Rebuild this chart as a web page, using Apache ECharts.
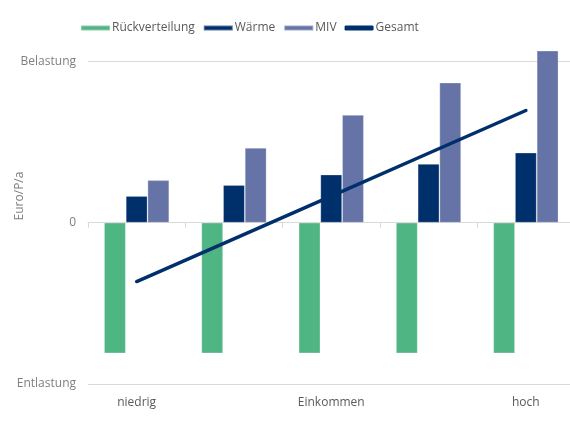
<!DOCTYPE html>
<html><head><meta charset="utf-8">
<script src="https://cdn.jsdelivr.net/npm/echarts@6/dist/echarts.min.js"></script>
<style>html,body{margin:0;padding:0;background:#fff;overflow:hidden}#c{width:576px;height:441px}</style>
</head><body><div id="c"></div>
<script>
const categories = ['niedrig', '', 'Einkommen', '', 'hoch'];
const rueckverteilung = [-81, -81, -81, -81, -81];
const waerme = [16.5, 23.3, 29.8, 36.4, 43.4];
const miv = [26.3, 46.4, 66.8, 86.8, 106.6];
const gesamt = [-36.5, -10, 16.5, 43, 69.5];
const yTickLabels = {'100': 'Belastung', '0': '0', '-100': 'Entlastung'};

const font = '"Open Sans", Lato, sans-serif';
const chart = echarts.init(document.getElementById('c'));
const barBorder = {borderColor: 'rgba(255,255,255,0.35)', borderWidth: 0.8};
chart.setOption({
  animation: false,
  textStyle: {fontFamily: font},
  legend: {
    top: 17, left: 75, itemWidth: 29, itemHeight: 5, itemGap: 8,
    textStyle: {color: '#595959', fontSize: 12, fontFamily: font, padding: [0,0,0,-3]},
    data: [
      {name: 'Rückverteilung', icon: 'rect'},
      {name: 'Wärme', icon: 'rect'},
      {name: 'MIV', icon: 'rect'},
      {name: 'Gesamt', icon: 'roundRect', itemStyle: {color: '#00306b'}}
    ]
  },
  graphic: [{
    type: 'text', x: 20, y: 196, rotation: Math.PI / 2,
    style: {text: 'Euro/P/a', fill: '#7f7f7f', font: '12px ' + font, textAlign: 'center', textVerticalAlign: 'middle'}
  }],
  grid: {left: 88, width: 486.5, top: 61.3, bottom: 57, containLabel: false},
  xAxis: [{
    type: 'category', data: categories,
    axisLine: {onZero: true, lineStyle: {color: '#d9d9d9'}},
    axisTick: {show: true, length: 5, lineStyle: {color: '#d9d9d9'}},
    axisLabel: {show: false}
  }, {
    type: 'category', data: categories, position: 'bottom',
    axisLine: {show: false}, axisTick: {show: false},
    axisLabel: {show: true, interval: 0, color: '#595959', fontSize: 12, margin: 13, fontFamily: font}
  }],
  yAxis: {
    type: 'value', min: -100, max: 100, interval: 100,
    axisLine: {show: false}, axisTick: {show: false},
    splitLine: {lineStyle: {color: '#d9d9d9'}},
    axisLabel: {color: '#7f7f7f', fontSize: 12, margin: 12, fontFamily: font,
      formatter: v => yTickLabels[String(v)] !== undefined ? yTickLabels[String(v)] : ''}
  },
  series: [
    {name: 'Rückverteilung', type: 'bar', data: rueckverteilung, barGap: '0%', barCategoryGap: '33%',
      clip: false, itemStyle: Object.assign({color: '#4fb583'}, barBorder)},
    {name: 'Wärme', type: 'bar', data: waerme, barGap: '0%', barCategoryGap: '33%',
      clip: false, itemStyle: Object.assign({color: '#00306b'}, barBorder)},
    {name: 'MIV', type: 'bar', data: miv, barGap: '0%', barCategoryGap: '33%',
      clip: false, itemStyle: Object.assign({color: '#6673a6'}, barBorder)},
    {name: 'Gesamt', type: 'line', data: gesamt, symbol: 'none', clip: false, z: 5,
      lineStyle: {color: '#00306b', width: 3.5, cap: 'round'}, itemStyle: {color: '#00306b'}}
  ]
});
</script></body></html>
